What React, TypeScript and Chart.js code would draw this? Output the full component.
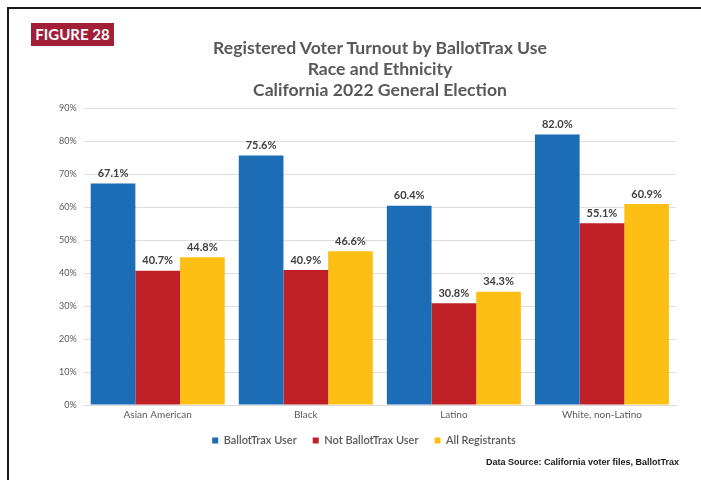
import React, { useEffect, useRef } from "react";
import { Chart, registerables } from "chart.js";

Chart.register(...registerables);

const categories = ["Asian American", "Black", "Latino", "White, non-Latino"];
const seriesNames = ["BallotTrax User", "Not BallotTrax User", "All Registrants"];
const ballotTraxUser = [67.1, 75.6, 60.4, 82.0];
const notBallotTraxUser = [40.7, 40.9, 30.8, 55.1];
const allRegistrants = [44.8, 46.6, 34.3, 60.9];
const seriesColors = ["#1D6DB6", "#BF2026", "#FDBF14"];
const titleLines = [
  "Registered Voter Turnout by BallotTrax Use",
  "Race and Ethnicity",
  "California 2022 General Election",
];
const yMin = 0;
const yMax = 90;
const yStep = 10;
const figureLabel = "FIGURE 28";
const sourceText = "Data Source: California voter files, BallotTrax";

const FONT = "Lato, 'Open Sans', sans-serif";

const valueLabels = {
  id: "valueLabels",
  afterDatasetsDraw(chart: any) {
    const ctx = chart.ctx;
    ctx.save();
    ctx.font = `bold 11px ${FONT}`;
    ctx.fillStyle = "#404040";
    ctx.textAlign = "center";
    ctx.textBaseline = "middle";
    chart.data.datasets.forEach((ds: any, i: number) => {
      const meta = chart.getDatasetMeta(i);
      meta.data.forEach((bar: any, j: number) => {
        ctx.fillText(`${Number(ds.data[j]).toFixed(1)}%`, bar.x, bar.y - 10);
      });
    });
    ctx.restore();
  },
};

const legendTighten = {
  id: "legendTighten",
  beforeLayout(chart: any) {
    const lg = chart.legend;
    if (lg && !lg.__tight) {
      const origFit = lg.fit;
      lg.fit = function () {
        origFit.call(this);
        this.height -= 12;
      };
      const origDraw = lg.draw;
      lg.draw = function () {
        const t = this.top;
        this.top = t - 6;
        origDraw.call(this);
        this.top = t;
      };
      lg.__tight = true;
    }
  },
};

export default function App() {
  const canvasRef = useRef<HTMLCanvasElement | null>(null);

  useEffect(() => {
    if (!canvasRef.current) return;
    const seriesData = [ballotTraxUser, notBallotTraxUser, allRegistrants];
    const chart = new Chart(canvasRef.current, {
      type: "bar",
      data: {
        labels: categories,
        datasets: seriesNames.map((name, i) => ({
          label: name,
          data: seriesData[i],
          backgroundColor: seriesColors[i],
          borderWidth: 0,
          barPercentage: 1,
          categoryPercentage: 0.905,
        })),
      },
      options: {
        animation: false,
        responsive: false,
        maintainAspectRatio: false,
        layout: { padding: { left: 52, right: 25, top: 108, bottom: 30 } },
        plugins: {
          title: { display: false },
          legend: {
            position: "bottom",
            labels: {
              boxWidth: 6,
              boxHeight: 6,
              padding: 16,
              color: "#595959",
              font: { family: FONT, size: 11, weight: "600" },
            },
          },
          tooltip: { enabled: false },
        },
        scales: {
          x: {
            grid: { display: false, drawTicks: false },
            border: { display: true, color: "#D9D9D9", width: 1 },
            ticks: {
              color: "#595959",
              padding: 4,
              font: { family: FONT, size: 10 },
            },
          },
          y: {
            min: yMin,
            max: yMax,
            border: { display: false },
            grid: { color: "#DDDDDD", drawTicks: false },
            ticks: {
              stepSize: yStep,
              padding: 7,
              color: "#595959",
              font: { family: FONT, size: 9 },
              callback: (v: any) => `${v}%`,
            },
          },
        },
      },
      plugins: [valueLabels, legendTighten],
    });
    return () => chart.destroy();
  }, []);

  return (
    <div style={{ position: "absolute", left: 0, top: 0, width: 701, height: 480, background: "#fff", overflow: "hidden" }}>
      <div
        style={{
          position: "absolute",
          left: 7,
          top: 7,
          width: 701,
          height: 480,
          borderTop: "2px solid #1a1a1a",
          borderLeft: "2px solid #1a1a1a",
        }}
      />
      <canvas ref={canvasRef} width={701} height={480} style={{ position: "absolute", left: 0, top: 0 }} />
      <div
        style={{
          position: "absolute",
          left: 84,
          top: 37,
          width: 592,
          textAlign: "center",
          color: "#595959",
          fontFamily: FONT,
          fontWeight: 700,
          fontSize: 17.6,
          lineHeight: "21px",
        }}
      >
        {titleLines.map((t) => (
          <div key={t}>{t}</div>
        ))}
      </div>
      <div
        style={{
          position: "absolute",
          left: 31,
          top: 23,
          width: 83,
          height: 23,
          background: "#A21F38",
          color: "#fff",
          fontFamily: FONT,
          fontWeight: 700,
          fontSize: 15,
          lineHeight: "23px",
          textAlign: "center",
        }}
      >
        {figureLabel}
      </div>
      <div
        style={{
          position: "absolute",
          right: 22,
          top: 455,
          color: "#1a1a1a",
          fontFamily: "'Liberation Sans Narrow', sans-serif",
          fontWeight: 700,
          fontSize: 9,
          lineHeight: "14px",
          whiteSpace: "nowrap",
        }}
      >
        {sourceText}
      </div>
    </div>
  );
}
